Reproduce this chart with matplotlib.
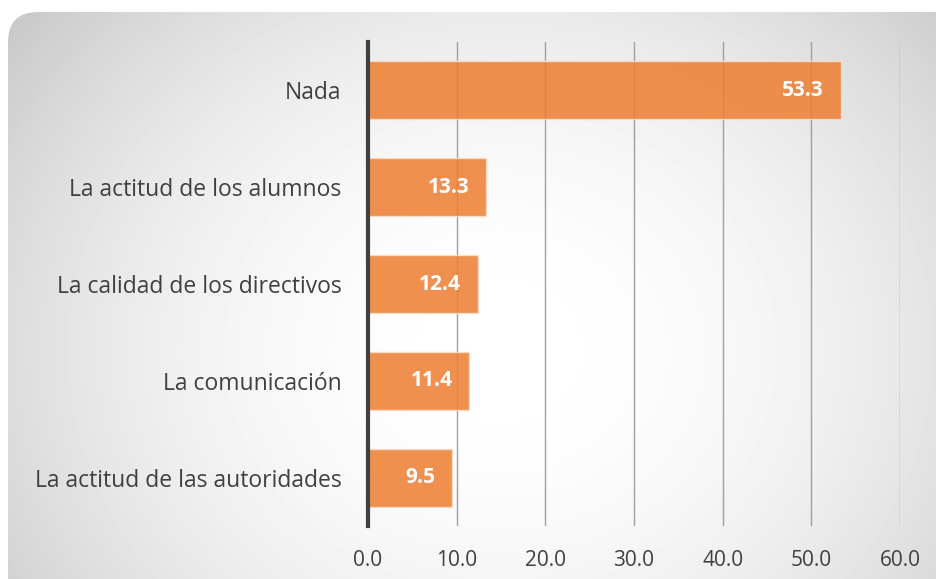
import numpy as np
import matplotlib.pyplot as plt
from matplotlib.patches import FancyBboxPatch

# Data
categories = ['Nada', 'La actitud de los alumnos', 'La calidad de los directivos',
              'La comunicación', 'La actitud de las autoridades']
values = [53.3, 13.3, 12.4, 11.4, 9.5]
xticks = [0, 10, 20, 30, 40, 50, 60]

plt.rcParams['font.family'] = ['Open Sans', 'DejaVu Sans']

W, H = 937, 579
fig = plt.figure(figsize=(W / 100, H / 100), dpi=100)
fig.patch.set_facecolor('white')

# background: rounded panel with radial gradient
bg = fig.add_axes([0, 0, 1, 1])
bg.set_xlim(0, W)
bg.set_ylim(H, 0)
bg.axis('off')
yy, xx = np.mgrid[0:H, 0:W]
r2 = ((xx - 500) / 480) ** 2 + ((yy - 350) / 420) ** 2
shade = 1 - 0.13 * r2
img = bg.imshow(shade, cmap='gray', vmin=0, vmax=1, extent=(0, W, H, 0), zorder=0)
panel = FancyBboxPatch((8, 12), W + 40, H + 40, boxstyle='round,pad=0,rounding_size=30',
                       transform=bg.transData, facecolor='none', edgecolor='none')
bg.add_patch(panel)
img.set_clip_path(panel)

# main chart
ax = fig.add_axes([368 / W, 1 - 526 / H, (900 - 368) / W, (526 - 42) / H])
ax.patch.set_alpha(0)
y = np.arange(len(categories))
bars = ax.barh(y, values, height=0.6, color='#ED7D31', alpha=0.85,
               edgecolor='#f8e0cc', linewidth=1, zorder=3)
for yi, v in zip(y, values):
    ax.annotate(f'{v:.1f}', (v, yi), xytext=(-12, 0), textcoords='offset points',
                ha='right', va='center', color='white', fontsize=15, fontweight='bold', zorder=4)

ax.set_xlim(0, 60)
ax.set_ylim(len(categories) - 0.5, -0.5)
ax.set_xticks(xticks)
ax.set_xticklabels([f'{t:.1f}' for t in xticks])
ax.set_yticks(y)
ax.set_yticklabels(categories)
ax.tick_params(axis='x', length=0, pad=17, labelsize=15, labelcolor='#404040')
ax.tick_params(axis='y', length=0, pad=19, labelsize=16.5, labelcolor='#404040')
ax.grid(axis='x', color='#a0a0a0', linewidth=1, zorder=1)
for s in ['top', 'right', 'bottom']:
    ax.spines[s].set_visible(False)
ax.spines['left'].set_color('#404040')
ax.spines['left'].set_linewidth(3)
ax.spines['left'].set_zorder(5)

fig.savefig('out.png', dpi=100)
